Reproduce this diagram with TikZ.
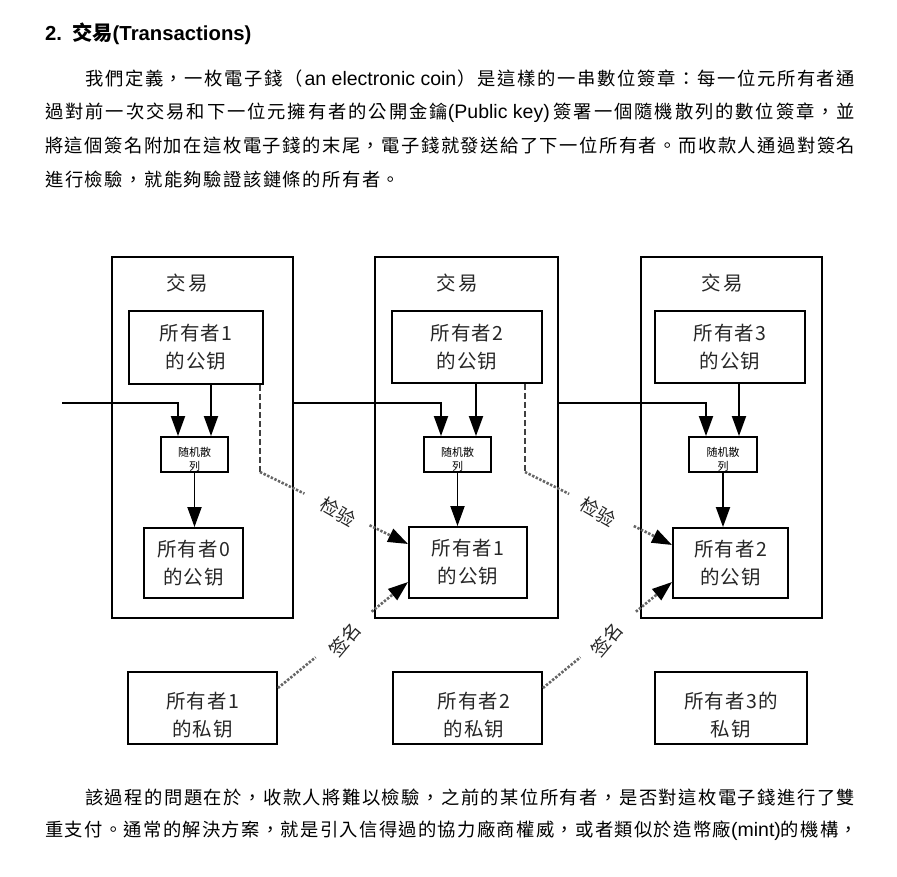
\documentclass[tikz,border=0pt]{standalone}
\usepackage{fontspec}
\setmainfont{Liberation Sans}
\newfontfamily\cjktc{Noto Sans CJK TC}
\newfontfamily\cjksc{Noto Sans CJK SC}
\usetikzlibrary{arrows.meta}
% justified spacing: \hfil between characters
\def\jsp#1{\jspA#1\relax}
\def\jspA#1{#1\jspB}
\def\jspB#1{\ifx\relax#1\else\hfil#1\expandafter\jspB\fi}
% fixed letter spacing
\newdimen\mykern \mykern=1.2pt
\def\ksp#1{\kspA#1\relax}
\def\kspA#1{#1\kspB}
\def\kspB#1{\ifx\relax#1\else\kern\mykern#1\expandafter\kspB\fi}
\newcommand\latw[1]{{\fontsize{19.5}{20}\selectfont #1}}
\newcommand\cjw[1]{{\cjktc\jsp{#1}}}
\tikzset{
  para/.style={anchor=base west, inner sep=0pt, font=\fontsize{18.3}{20}\selectfont},
  box/.style={draw, line width=1.9pt, inner sep=0pt, align=center,
    font=\cjksc\fontsize{19.5}{28}\selectfont, text=black!85},
  txt/.style={inner sep=0pt, align=center, font=\cjksc\fontsize{19.5}{28}\selectfont, text=black!85},
  hashtxt/.style={inner sep=0pt, align=center, font=\cjksc\fontsize{11}{14}\selectfont},
  arr/.style={-{Triangle[length=20pt,width=14pt]}, line width=1.9pt},
  dashv/.style={line width=2.2pt, dash pattern=on 6pt off 3pt, black!75},
  dotl/.style={line width=2.6pt, dash pattern=on 2.4pt off 1.6pt, black!60},
  dotg/.style={dotl, -{Triangle[length=20pt,width=14pt,color=black]}},
  lab/.style={inner sep=0pt, font=\cjksc\fontsize{18.5}{18}\selectfont, text=black!85}
}
\begin{document}
\begin{tikzpicture}[x=1pt,y=-1pt]
\useasboundingbox (0,0) rectangle (897,876);
% ---- heading and paragraph ----
\node[anchor=base west, inner sep=0pt] (hd) at (45,40)
  {\fontsize{20.3}{22}\selectfont\bfseries 2.\hspace{10pt}{\cjktc 交易}(Transactions)};
\node[para] (t1) at (85,85) {\makebox[770pt][s]{\cjw{我們定義，一枚電子錢（}\hfil\latw{an electronic coin}\hfil\cjw{）是這樣的一串數位簽章：每一位元所有者通}}};
\node[para] (t2) at (45,118) {\makebox[810pt][s]{\cjw{過對前一次交易和下一位元擁有者的公開金鑰}\latw{(Public key)}\hfil\hfil\cjw{簽署一個隨機散列的數位簽章，並}}};
\node[para] (t3) at (45,152) {\makebox[810pt][s]{\cjw{將這個簽名附加在這枚電子錢的末尾，電子錢就發送給了下一位所有者。而收款人通過對簽名}}};
\node[para] (t4) at (45,186) {\makebox[355pt][s]{\cjw{進行檢驗，就能夠驗證該鏈條的所有者。}}};
\node[para] (b1) at (85,804) {\makebox[770pt][s]{\cjw{該過程的問題在於，收款人將難以檢驗，之前的某位所有者，是否對這枚電子錢進行了雙}}};
\node[para] (b2) at (45,836) {\makebox[813pt][s]{\cjw{重支付。通常的解決方案，就是引入信得過的協力廠商權威，或者類似於造幣廠}\latw{(mint)}\cjw{的機構，}}};
% ---- transaction boxes ----
\node[box, minimum width=181, minimum height=361] (T1) at (202.5,437.5) {};
\node[box, minimum width=183, minimum height=361] (T2) at (466.5,437.5) {};
\node[box, minimum width=181, minimum height=361] (T3) at (731.5,437.5) {};
\node[txt] (L1) at (187,283) {交\kern3pt易};
\node[txt] (L2) at (457,283) {交\kern3pt易};
\node[txt] (L3) at (722,283) {交\kern3pt易};
% owner public keys (top)
\node[box, minimum width=134, minimum height=73] (p1) at (196,347.5) {\ksp{所有者1}\\\ksp{的公钥}};
\node[box, minimum width=150, minimum height=72] (p2) at (467,347) {\ksp{所有者2}\\\ksp{的公钥}};
\node[box, minimum width=150, minimum height=72] (p3) at (730,347) {\ksp{所有者3}\\\ksp{的公钥}};
% hash boxes
\node[box, minimum width=67, minimum height=35] (h1) at (194.5,454.5) {};
\node[box, minimum width=67, minimum height=35] (h2) at (457.5,454.5) {};
\node[box, minimum width=68, minimum height=35] (h3) at (723,454.5) {};
\node[hashtxt] (h1t) at (194.5,459) {随机散\\列};
\node[hashtxt] (h2t) at (457.5,459) {随机散\\列};
\node[hashtxt] (h3t) at (723,459) {随机散\\列};
% previous owner public keys (bottom)
\node[box, minimum width=99, minimum height=70] (o1) at (193.5,563) {\ksp{所有者0}\\\ksp{的公钥}};
\node[box, minimum width=118, minimum height=71] (o2) at (468,562.5) {\ksp{所有者1}\\\ksp{的公钥}};
\node[box, minimum width=115, minimum height=70] (o3) at (730.5,563) {\ksp{所有者2}\\\ksp{的公钥}};
% private keys
\node[box, minimum width=149, minimum height=72] (pk1) at (202.5,708) {};
\node[box, minimum width=149, minimum height=72] (pk2) at (467.5,708) {};
\node[box, minimum width=152, minimum height=72] (pk3) at (731,708) {};
\node[txt] (pk1t) at (202.5,715) {\ksp{所有者1}\\\ksp{的私钥}};
\node[txt] (pk2t) at (474,715) {\ksp{所有者2}\\\ksp{的私钥}};
\node[txt] (pk3t) at (731,715) {\ksp{所有者3的}\\\ksp{私钥}};
% ---- solid connectors ----
\coordinate (in0) at (62,403);
\draw[arr] (in0) -| ([xshift=-16.5pt]h1.north);
\draw[arr] (T1.east |- in0) -| ([xshift=-16.5pt]h2.north);
\draw[arr] (T2.east |- in0) -| ([xshift=-17pt]h3.north);
\draw[arr] ([xshift=16.5pt]h1.north |- p1.south) -- ([xshift=16.5pt]h1.north);
\draw[arr] ([xshift=18.5pt]h2.north |- p2.south) -- ([xshift=18.5pt]h2.north);
\draw[arr] ([xshift=16pt]h3.north |- p3.south) -- ([xshift=16pt]h3.north);
\draw[arr] (h1.south) -- (h1.south |- o1.north);
\draw[arr] (h2.south) -- (h2.south |- o2.north);
\draw[arr] (h3.south) -- (h3.south |- o3.north);
% ---- verification ----
\coordinate (k1) at (260,472);
\coordinate (k2) at (525,472);
\coordinate (e1) at ([yshift=18.5pt]o2.west);
\coordinate (e2) at ([yshift=18pt]o3.west);
\draw[dashv] (k1 |- p1.south) -- (k1);
\draw[dashv] (k2 |- p2.south) -- (k2);
\path (k1) -- coordinate[pos=0.30] (g1a) coordinate[pos=0.74] (g1b) (e1);
\path (k2) -- coordinate[pos=0.30] (g2a) coordinate[pos=0.74] (g2b) (e2);
\draw[dotl] (k1) -- (g1a);
\draw[dotg] (g1b) -- (e1);
\draw[dotl] (k2) -- (g2a);
\draw[dotg] (g2b) -- (e2);
\node[lab, rotate=-30] (v1) at (338,512) {检验};
\node[lab, rotate=-30] (v2) at (598,512) {检验};
% ---- signatures ----
\coordinate (f1) at ([yshift=20pt]pk1.east);
\coordinate (f2) at ([yshift=20pt]pk2.east);
\coordinate (r1) at ([yshift=-19.5pt]o2.west);
\coordinate (r2) at ([yshift=-19pt]o3.west);
\path (f1) -- coordinate[pos=0.29] (q1a) coordinate[pos=0.72] (q1b) (r1);
\path (f2) -- coordinate[pos=0.29] (q2a) coordinate[pos=0.72] (q2b) (r2);
\draw[dotl] (f1) -- (q1a);
\draw[dotg] (q1b) -- (r1);
\draw[dotl] (f2) -- (q2a);
\draw[dotg] (q2b) -- (r2);
\node[lab, rotate=50] (s1) at (345,640) {签名};
\node[lab, rotate=50] (s2) at (607,640) {签名};
\end{tikzpicture}
\end{document}
